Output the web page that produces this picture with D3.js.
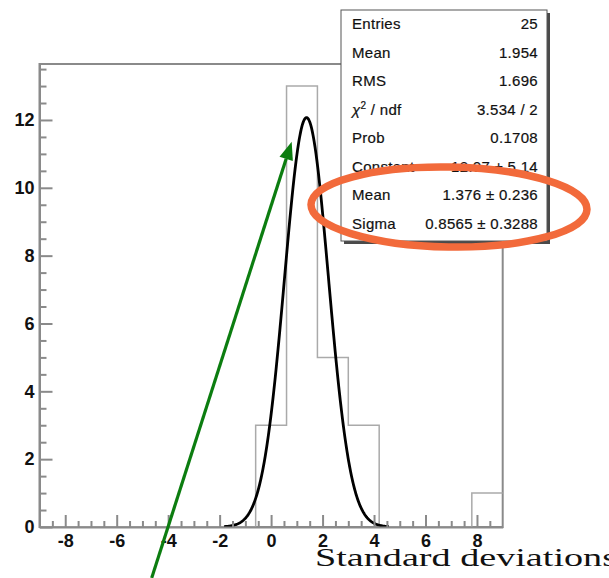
<!DOCTYPE html>
<html>
<head>
<meta charset="utf-8">
<script src="https://cdn.jsdelivr.net/npm/d3@7"></script>
<style>
body { margin: 0; background: #fff; }
svg { display: block; }
.axis text { font-family: "Liberation Sans", Arial, sans-serif; font-weight: bold; font-size: 18px; fill: #111; }
.axis path, .axis line { stroke: #8a8a8a; stroke-width: 2; }
.stats text { font-family: "Liberation Sans", Arial, sans-serif; font-size: 15px; letter-spacing: 0.3px; fill: #111; stroke: #111; stroke-width: 0.2px; }
</style>
</head>
<body>
<svg id="chart"></svg>
<script>
// histogram : 15 bins of width 1.2 from -9 to 9
var binEdges = [-9, -7.8, -6.6, -5.4, -4.2, -3, -1.8, -0.6, 0.6, 1.8, 3, 4.2, 5.4, 6.6, 7.8, 9];
var counts = [0, 0, 0, 0, 0, 0, 0, 3, 13, 5, 3, 0, 0, 0, 1];

// gaussian fit (values printed in the stat box)
var fitConstant = 12.07;
var fitMean = 1.376;
var fitSigma = 0.8565;
var fitRange = [-1.83, 4.58];

var xTicks = [-8, -6, -4, -2, 0, 2, 4, 6, 8];
var yTicks = [0, 2, 4, 6, 8, 10, 12];
var yMax = 13.65;

var statLabels = ["Entries", "Mean", "RMS", "χ2 / ndf", "Prob", "Constant", "Mean", "Sigma"];
var statValues = ["25", "1.954", "1.696", "3.534 / 2", "0.1708", "12.07 ± 5.14", "1.376 ± 0.236", "0.8565 ± 0.3288"];

var xTitle = "Standard deviations";

// arrow annotation, in data units
var arrowFrom = [-4.64, -1.5];
var arrowTo = [0.8, 11.36];

// - dimensions

var width = 609, height = 578;
var margin = {top: 64, right: 106.3, bottom: 51, left: 39.5};

var svg = d3.select("#chart")
	.attr("width", width)
	.attr("height", height);

var x = d3.scaleLinear()
	.domain([binEdges[0], binEdges[binEdges.length - 1]])
	.range([margin.left, width - margin.right]);

var y = d3.scaleLinear()
	.domain([0, yMax])
	.range([height - margin.bottom, margin.top]);

// - frame

svg.append("rect")
	.attr("x", x.range()[0])
	.attr("y", y.range()[1])
	.attr("width", x.range()[1] - x.range()[0])
	.attr("height", y.range()[0] - y.range()[1])
	.attr("fill", "none")
	.attr("stroke", "#8a8a8a")
	.attr("stroke-width", 2);

// - histogram outline

var steps = [];
counts.forEach(function(c, i){
	steps.push([binEdges[i], c]);
	steps.push([binEdges[i + 1], c]);
});

svg.append("path")
	.datum(steps)
	.attr("fill", "none")
	.attr("stroke", "#aaaaaa")
	.attr("stroke-width", 1.5)
	.attr("d", d3.line()
		.x(function(d){return x(d[0]);})
		.y(function(d){return y(d[1]);}));

// - fit curve

var gauss = function(v){
	var t = (v - fitMean) / fitSigma;
	return fitConstant * Math.exp(-0.5 * t * t);
};
var curveX = d3.range(fitRange[0], fitRange[1], 0.02).concat([fitRange[1]]);

svg.append("path")
	.datum(curveX)
	.attr("fill", "none")
	.attr("stroke", "#000")
	.attr("stroke-width", 2.8)
	.attr("d", d3.line()
		.x(function(d){return x(d);})
		.y(function(d){return y(gauss(d));}));

// - axes

var xMinor = d3.range(-8.5, 9, 0.5).filter(function(v){return v % 2 !== 0;});
var yMinor = d3.range(0.5, yMax, 0.5).filter(function(v){return v % 2 !== 0;});

svg.append("g")
	.attr("class", "axis")
	.attr("transform", "translate(0," + y(0) + ")")
	.call(d3.axisBottom(x).tickValues(xMinor).tickSizeInner(-6).tickSizeOuter(0).tickFormat(""));

svg.append("g")
	.attr("class", "axis")
	.attr("transform", "translate(0," + y(0) + ")")
	.call(d3.axisBottom(x).tickValues(xTicks).tickSizeInner(-12).tickSizeOuter(0).tickPadding(7).tickFormat(d3.format("d")))
	.select(".domain").remove();

svg.append("g")
	.attr("class", "axis")
	.attr("transform", "translate(" + x.range()[0] + ",0)")
	.call(d3.axisLeft(y).tickValues(yMinor).tickSizeInner(-7).tickSizeOuter(0).tickFormat(""));

svg.append("g")
	.attr("class", "axis")
	.attr("transform", "translate(" + x.range()[0] + ",0)")
	.call(d3.axisLeft(y).tickValues(yTicks).tickSizeInner(-13).tickSizeOuter(0).tickPadding(5).tickFormat(d3.format("d")))
	.select(".domain").remove();

svg.selectAll(".axis text").text(function(){return d3.select(this).text().replace("−", "-");});

// - stat box

var box = {x: 341, y: 10, w: 206, h: 231};
var stats = svg.append("g").attr("class", "stats");

stats.append("rect")
	.attr("x", box.x + 3).attr("y", box.y + 3)
	.attr("width", box.w).attr("height", box.h)
	.attr("fill", "#4a4a4a");

stats.append("rect")
	.attr("x", box.x).attr("y", box.y)
	.attr("width", box.w).attr("height", box.h)
	.attr("fill", "#fff")
	.attr("stroke", "#555")
	.attr("stroke-width", 1);

var rowH = 28.5;

var lab = stats.selectAll("text.lab")
	.data(statLabels).enter().append("text")
	.attr("class", "lab")
	.attr("x", box.x + 11)
	.attr("y", function(d, i){return box.y + 19 + i * rowH;});

lab.each(function(d){
	var t = d3.select(this);
	if (d.indexOf("χ2") === 0) {
		t.append("tspan").style("font-style", "italic").text("χ");
		t.append("tspan").attr("dy", -6).style("font-size", "10px").text("2");
		t.append("tspan").attr("dy", 6).text(" / ndf");
	} else {
		t.text(d);
	}
});

stats.selectAll("text.val")
	.data(statValues).enter().append("text")
	.attr("class", "val")
	.attr("x", box.x + box.w - 9)
	.attr("y", function(d, i){return box.y + 19 + i * rowH;})
	.attr("text-anchor", "end")
	.text(function(d){return d;});

// - x title

svg.append("text")
	.attr("x", 315)
	.attr("y", 566)
	.attr("textLength", 302)
	.attr("lengthAdjust", "spacingAndGlyphs")
	.style("font-family", "'Liberation Serif', 'Times New Roman', serif")
	.style("font-size", "25px")
	.attr("fill", "#111")
	.text(xTitle);

// - annotations : orange ellipse and green arrow

svg.append("ellipse")
	.attr("cx", box.x + 108)
	.attr("cy", box.y + 197)
	.attr("rx", 138)
	.attr("ry", 40)
	.attr("transform", "rotate(1," + (box.x + 108) + "," + (box.y + 197) + ")")
	.attr("fill", "none")
	.attr("stroke", "#f26a3b")
	.attr("stroke-width", 7.5);

var ax0 = x(arrowFrom[0]), ay0 = y(arrowFrom[1]);
var ax1 = x(arrowTo[0]), ay1 = y(arrowTo[1]);
var ang = Math.atan2(ay1 - ay0, ax1 - ax0);
var headLen = 18, headW = 7;
var bx = ax1 - headLen * Math.cos(ang), by = ay1 - headLen * Math.sin(ang);

svg.append("line")
	.attr("x1", ax0).attr("y1", ay0)
	.attr("x2", bx).attr("y2", by)
	.attr("stroke", "#0c7d10")
	.attr("stroke-width", 3.2);

svg.append("polygon")
	.attr("points", [
		[ax1, ay1],
		[bx + headW * Math.sin(ang), by - headW * Math.cos(ang)],
		[bx - headW * Math.sin(ang), by + headW * Math.cos(ang)]
	].map(function(p){return p.join(",");}).join(" "))
	.attr("fill", "#0c7d10");
</script>
</body>
</html>
